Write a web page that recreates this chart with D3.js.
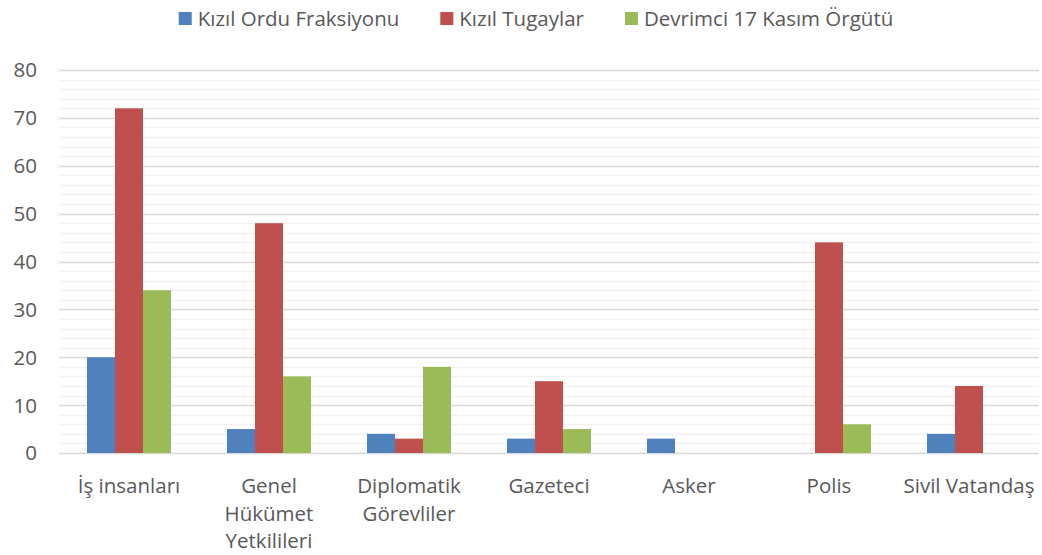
<!DOCTYPE html>
<html>
<head>
<meta charset="utf-8">
<script src="https://cdn.jsdelivr.net/npm/d3@7"></script>
<style>
  body { margin: 0; background: #fff; }
  text { font-family: "Open Sans", "Liberation Sans", sans-serif; fill: #595959; }
</style>
</head>
<body>
<svg id="chart" width="1042" height="555"></svg>
<script>
// categories (label lines as shown under the axis)
var categories = ["İş insanları", "Genel Hükümet Yetkilileri", "Diplomatik Görevliler", "Gazeteci", "Asker", "Polis", "Sivil Vatandaş"];
var catLines = [["İş insanları"], ["Genel", "Hükümet", "Yetkilileri"], ["Diplomatik", "Görevliler"], ["Gazeteci"], ["Asker"], ["Polis"], ["Sivil Vatandaş"]];
var seriesNames = ["Kızıl Ordu Fraksiyonu", "Kızıl Tugaylar", "Devrimci 17 Kasım Örgütü"];
var seriesColors = ["#4f81bd", "#c0504d", "#9bbb59"];
var kizilOrdu = [20, 5, 4, 3, 3, 0, 4];
var kizilTugaylar = [72, 48, 3, 15, 0, 44, 14];
var devrimci17 = [34, 16, 18, 5, 0, 6, 0];
var yTicks = [0, 10, 20, 30, 40, 50, 60, 70, 80];

var svg = d3.select("#chart");
var plotL = 59, plotR = 1039, plotT = 70, plotB = 453;

var x = d3.scaleBand().domain(categories).range([plotL, plotR]).paddingInner(0.4).paddingOuter(0.2);
var x1 = d3.scaleBand().domain(seriesNames).range([0, x.bandwidth()]);
var y = d3.scaleLinear().domain([0, 80]).range([plotB, plotT]);

// minor gridlines
var minor = d3.range(0, 81, 2).filter(function(v) { return v % 10 != 0; });
svg.append("g").selectAll("line").data(minor).enter().append("line")
  .attr("x1", plotL).attr("x2", plotR)
  .attr("y1", function(d) { return Math.round(y(d)) + 0.5; }).attr("y2", function(d) { return Math.round(y(d)) + 0.5; })
  .attr("stroke", "#f2f2f2").attr("stroke-width", 1.5);

// major gridlines
svg.append("g").selectAll("line").data(yTicks).enter().append("line")
  .attr("x1", plotL).attr("x2", plotR)
  .attr("y1", function(d) { return Math.round(y(d)) + 0.5; }).attr("y2", function(d) { return Math.round(y(d)) + 0.5; })
  .attr("stroke", "#d9d9d9").attr("stroke-width", 1.5);

// y labels
svg.append("g").selectAll("text").data(yTicks).enter().append("text")
  .attr("x", 37).attr("y", function(d) { return y(d); })
  .attr("dy", "0.36em").attr("text-anchor", "end")
  .style("font-size", "20.5px")
  .text(function(d) { return d; });

// bars
var allSeries = [kizilOrdu, kizilTugaylar, devrimci17];
allSeries.forEach(function(vals, si) {
  svg.append("g").selectAll("rect").data(vals).enter().append("rect")
    .attr("x", function(d, i) { return x(categories[i]) + x1(seriesNames[si]); })
    .attr("width", x1.bandwidth())
    .attr("y", function(d) { return y(d); })
    .attr("height", function(d) { return y(0) - y(d); })
    .attr("fill", seriesColors[si]);
});

// x labels
var xl = svg.append("g");
catLines.forEach(function(lines, i) {
  var t = xl.append("text")
    .attr("text-anchor", "middle")
    .style("font-size", "20.5px");
  lines.forEach(function(l, j) {
    t.append("tspan")
      .attr("x", x(categories[i]) + x.bandwidth() / 2)
      .attr("y", 493 + j * 27.5)
      .text(l);
  });
});

// legend
var lg = svg.append("g");
var items = [];
seriesNames.forEach(function(n, i) {
  var g = lg.append("g");
  g.append("rect").attr("x", 0).attr("y", 12).attr("width", 13).attr("height", 13).attr("fill", seriesColors[i]);
  var t = g.append("text").attr("x", 19).attr("y", 26).style("font-size", "20.5px").text(n);
  items.push({g: g, w: 19 + t.node().getComputedTextLength()});
});
var gap = 41;
var total = d3.sum(items, function(d) { return d.w; }) + gap * (items.length - 1);
var lx = 536 - total / 2;
items.forEach(function(it) {
  it.g.attr("transform", "translate(" + lx + ",0)");
  lx += it.w + gap;
});
</script>
</body>
</html>
